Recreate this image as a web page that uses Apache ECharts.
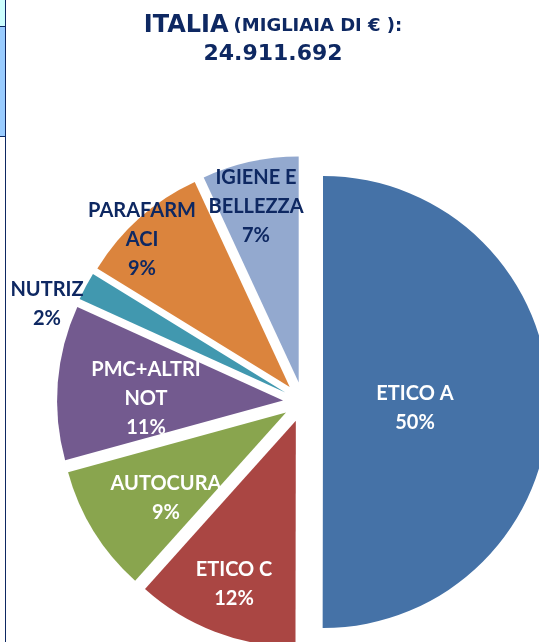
<!DOCTYPE html>
<html>
<head>
<meta charset="utf-8">
<script src="https://cdn.jsdelivr.net/npm/echarts@6/dist/echarts.min.js"></script>
<style>
  html, body { margin: 0; padding: 0; background: #fff; }
  #chart { width: 539px; height: 642px; }
</style>
</head>
<body>
<div id="chart"></div>
<script>
// quote di mercato (%), in senso orario dalle ore 12
const categories = ['ETICO A', 'ETICO C', 'AUTOCURA', 'PMC+ALTRI\nNOT', 'NUTRIZ', 'PARAFARM\nACI', 'IGIENE E\nBELLEZZA']
const shares = [50, 11.6, 9.1, 11.05, 2, 9.3, 6.9]
const colors = ['#4572A7', '#AA4643', '#89A54E', '#735A8F', '#4198AF', '#DB843D', '#93A9CF']
const totalLabel = '24.911.692'

const navy = '#0E2862'
// label block centres, picked to match the original layout
const labelPos = [[415, 408], [234, 584], [166, 498], [146, 399], [47, 304], [142, 240], [256, 207]]
const darkLabels = [4, 5, 6]

const chart = echarts.init(document.getElementById('chart'))

// the pie's own label layout ignores fixed spots, so the labels are drawn as text on top
const labelTexts = categories.map((name, i) => ({
  type: 'text',
  x: labelPos[i][0],
  y: labelPos[i][1],
  z: 100,
  style: {
    text: name + '\n' + Math.round(shares[i]) + '%',
    fill: darkLabels.includes(i) ? navy : '#fff',
    font: 'bold 20px Lato',
    lineHeight: 29,
    align: 'center',
    verticalAlign: 'middle'
  }
}))

chart.setOption({
  animation: false,
  backgroundColor: '#fff',
  title: {
    left: 268,
    top: 7,
    textAlign: 'center',
    text: '{a|ITALIA} {b|(MIGLIAIA DI € ):}\n{c|' + totalLabel + '}',
    textStyle: {
      rich: {
        a: { fontFamily: 'DejaVu Sans', fontWeight: 'bold', fontSize: 24, color: navy, lineHeight: 28 },
        b: { fontFamily: 'DejaVu Sans', fontWeight: 'bold', fontSize: 18, color: navy, lineHeight: 28 },
        c: { fontFamily: 'DejaVu Sans', fontWeight: 'bold', fontSize: 22, color: navy, lineHeight: 28 }
      }
    }
  },
  graphic: [
    { type: 'rect', shape: { x: 0, y: 0, width: 5, height: 26 }, style: { fill: '#CCFFFF' } },
    { type: 'rect', shape: { x: 0, y: 27, width: 5, height: 109 }, style: { fill: '#99CCFF' } },
    { type: 'line', shape: { x1: 0, y1: 26.5, x2: 5, y2: 26.5 }, style: { stroke: navy, lineWidth: 1 } },
    { type: 'line', shape: { x1: 0, y1: 136.5, x2: 5, y2: 136.5 }, style: { stroke: navy, lineWidth: 1 } },
    { type: 'line', shape: { x1: 5.5, y1: 0, x2: 5.5, y2: 642 }, style: { stroke: navy, lineWidth: 1 } }
  ].concat(labelTexts),
  series: [{
    type: 'pie',
    center: [303, 402],
    radius: 226,
    startAngle: 90,
    clockwise: true,
    selectedMode: 'multiple',
    selectedOffset: 20,
    itemStyle: { borderWidth: 0 },
    label: { show: false },
    labelLine: { show: false },
    data: categories.map((name, i) => ({
      name: name,
      value: shares[i],
      selected: true,
      itemStyle: { color: colors[i] }
    }))
  }]
})
</script>
</body>
</html>
